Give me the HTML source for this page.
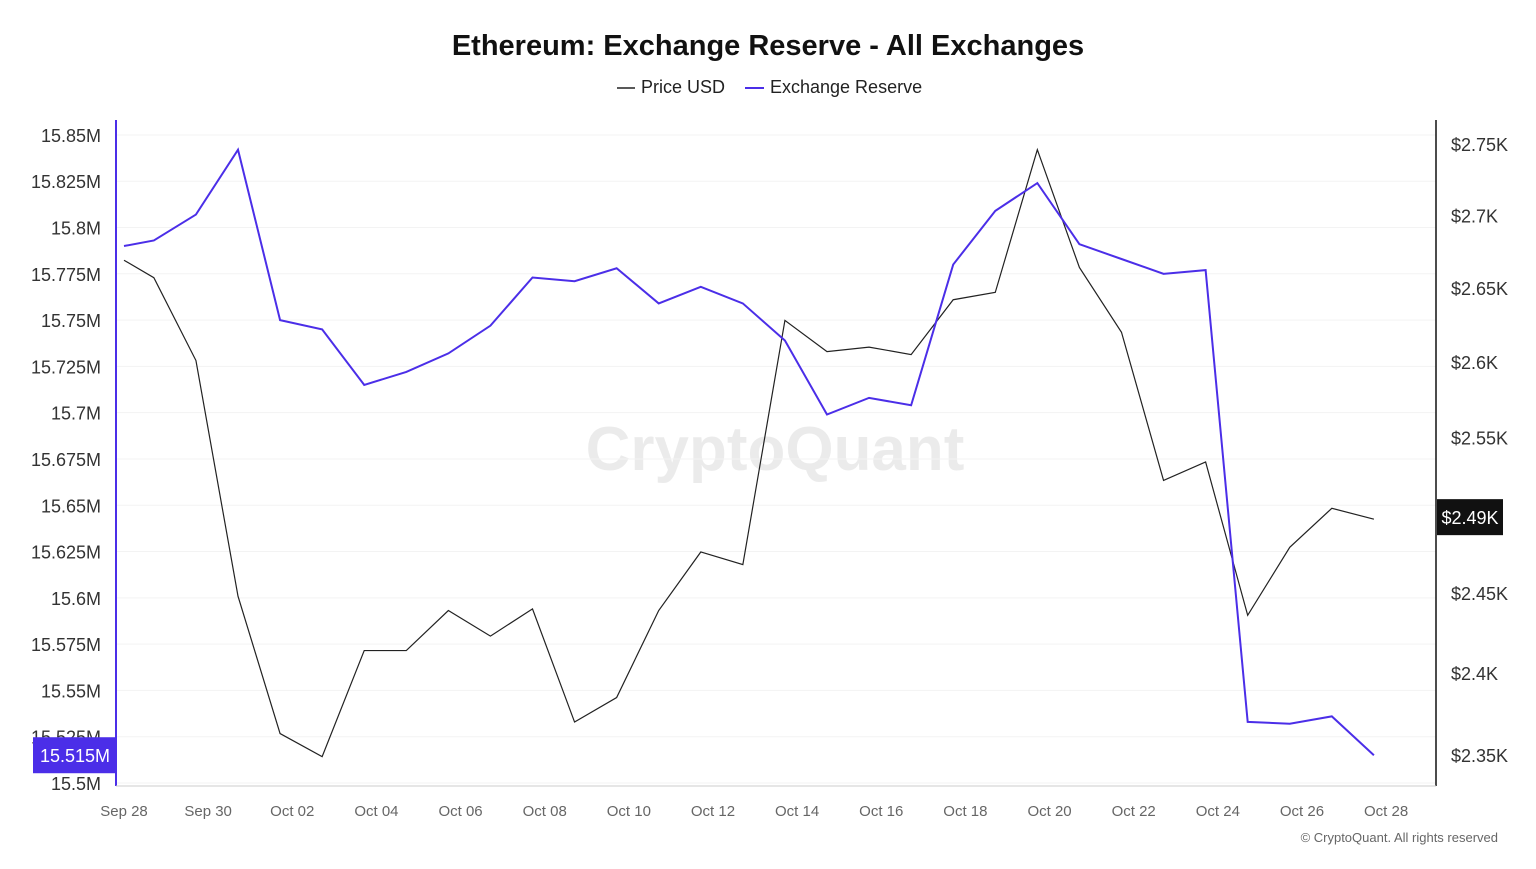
<!DOCTYPE html>
<html><head><meta charset="utf-8"><style>
body{margin:0;background:#fff;font-family:"Liberation Sans",sans-serif}
svg text{font-family:"Liberation Sans",sans-serif}
</style></head><body>
<svg id="c" width="1536" height="864">
<text x="768" y="55" text-anchor="middle" font-size="29" font-weight="bold" fill="#111">Ethereum: Exchange Reserve - All Exchanges</text>
<g>
<line x1="617" y1="88" x2="635" y2="88" stroke="#222" stroke-width="1.5"/>
<text x="641" y="93" font-size="18" fill="#222">Price USD</text>
<line x1="745" y1="88" x2="764" y2="88" stroke="#4b2ee8" stroke-width="2"/>
<text x="770" y="93" font-size="18" fill="#222">Exchange Reserve</text>
</g>
<text x="775" y="470" text-anchor="middle" font-size="62" font-weight="bold" fill="#000" fill-opacity="0.08">CryptoQuant</text>
<g id="grid"></g><g id="axes"></g><g id="marks"></g>
<text x="1498" y="842" text-anchor="end" font-size="13" fill="#666">© CryptoQuant. All rights reserved</text>
</svg>
<script>
const dayOffsets=[0,0.71,1.71,2.71,3.71,4.71,5.71,6.71,7.71,8.71,9.71,10.71,11.71,12.71,13.71,14.71,15.71,16.71,17.71,18.71,19.71,20.71,21.71,22.71,23.71,24.71,25.71,26.71,27.71,28.71,29.71];
const reserve=[15.790,15.793,15.807,15.842,15.750,15.745,15.715,15.722,15.732,15.747,15.773,15.771,15.778,15.759,15.768,15.759,15.739,15.699,15.708,15.704,15.780,15.809,15.824,15.791,15.783,15.775,15.777,15.533,15.532,15.536,15.515];
const price=[2.669,2.657,2.601,2.448,2.363,2.349,2.414,2.414,2.439,2.423,2.440,2.370,2.385,2.439,2.476,2.468,2.628,2.607,2.610,2.605,2.642,2.647,2.746,2.664,2.620,2.522,2.534,2.436,2.479,2.504,2.497];
const leftTicks=[15.5,15.525,15.55,15.575,15.6,15.625,15.65,15.675,15.7,15.725,15.75,15.775,15.8,15.825,15.85];
const leftLabels=["15.5M","15.525M","15.55M","15.575M","15.6M","15.625M","15.65M","15.675M","15.7M","15.725M","15.75M","15.775M","15.8M","15.825M","15.85M"];
const rightTicks=[2.35,2.4,2.45,2.5,2.55,2.6,2.65,2.7,2.75];
const rightLabels=["$2.35K","$2.4K","$2.45K","$2.5K","$2.55K","$2.6K","$2.65K","$2.7K","$2.75K"];
const xTickDays=[0,2,4,6,8,10,12,14,16,18,20,22,24,26,28,30];
const xLabels=["Sep 28","Sep 30","Oct 02","Oct 04","Oct 06","Oct 08","Oct 10","Oct 12","Oct 14","Oct 16","Oct 18","Oct 20","Oct 22","Oct 24","Oct 26","Oct 28"];
const X=d=>124+d*42.07;
const YL=v=>783-(v-15.5)/0.025*46.29;
const YR=v=>144+(Math.log(2.75)-Math.log(v))/(Math.log(2.75)-Math.log(2.35))*611;
const NS="http://www.w3.org/2000/svg";
function mk(p,t,a){const e=document.createElementNS(NS,t);for(const k in a)e.setAttribute(k,a[k]);p.appendChild(e);return e;}
const grid=document.getElementById('grid'),axes=document.getElementById('axes'),marks=document.getElementById('marks');
leftTicks.forEach((v,i)=>{
 const l=mk(grid,'line',{x1:116,x2:1436,y1:YL(v),y2:YL(v),stroke:'#f3f3f3'});
 
 
 const t=mk(axes,'text',{x:101,y:YL(v)+7,'text-anchor':'end','font-size':18,fill:'#333'});
 t.textContent=leftLabels[i];
 
 
});
rightTicks.forEach((v,i)=>{
 const t=mk(axes,'text',{x:1451,y:YR(v)+7,'font-size':18,fill:'#333'});
 t.textContent=rightLabels[i];
 
 
});
xTickDays.forEach((d,i)=>{
 const t=mk(axes,'text',{x:X(d),y:816,'text-anchor':'middle','font-size':15,fill:'#666'});
 t.textContent=xLabels[i];
 
 
});
const la=mk(axes,'line',{x1:116,x2:116,y1:120,y2:786,stroke:'#4b2ee8','stroke-width':2});


const ra=mk(axes,'line',{x1:1436,x2:1436,y1:120,y2:786,stroke:'#111','stroke-width':1.5});


const xa=mk(axes,'line',{x1:116,x2:1436,y1:786,y2:786,stroke:'#ccc'});


const pp=mk(marks,'polyline',{points:price.map((v,i)=>X(dayOffsets[i])+','+YR(v)).join(' '),fill:'none',stroke:'#222','stroke-width':1.2});


const rp=mk(marks,'polyline',{points:reserve.map((v,i)=>X(dayOffsets[i])+','+YL(v)).join(' '),fill:'none',stroke:'#4b2ee8','stroke-width':2});


const lr=reserve[reserve.length-1],ly=YL(lr);
const lb=mk(marks,'rect',{x:33,y:ly-18,width:83,height:36,fill:'#4b2ee8'});


const lt=mk(marks,'text',{x:75,y:ly+7,'text-anchor':'middle','font-size':18,fill:'#fff'});
lt.textContent=lr.toFixed(3)+'M';


const lp=price[price.length-1],py=YR(lp)-2;
const pb=mk(marks,'rect',{x:1437,y:py-18,width:66,height:36,fill:'#111'});


const pt=mk(marks,'text',{x:1470,y:py+7,'text-anchor':'middle','font-size':18,fill:'#fff'});
pt.textContent='$'+(Math.floor(lp*100)/100).toFixed(2)+'K';


</script>
</body></html>
